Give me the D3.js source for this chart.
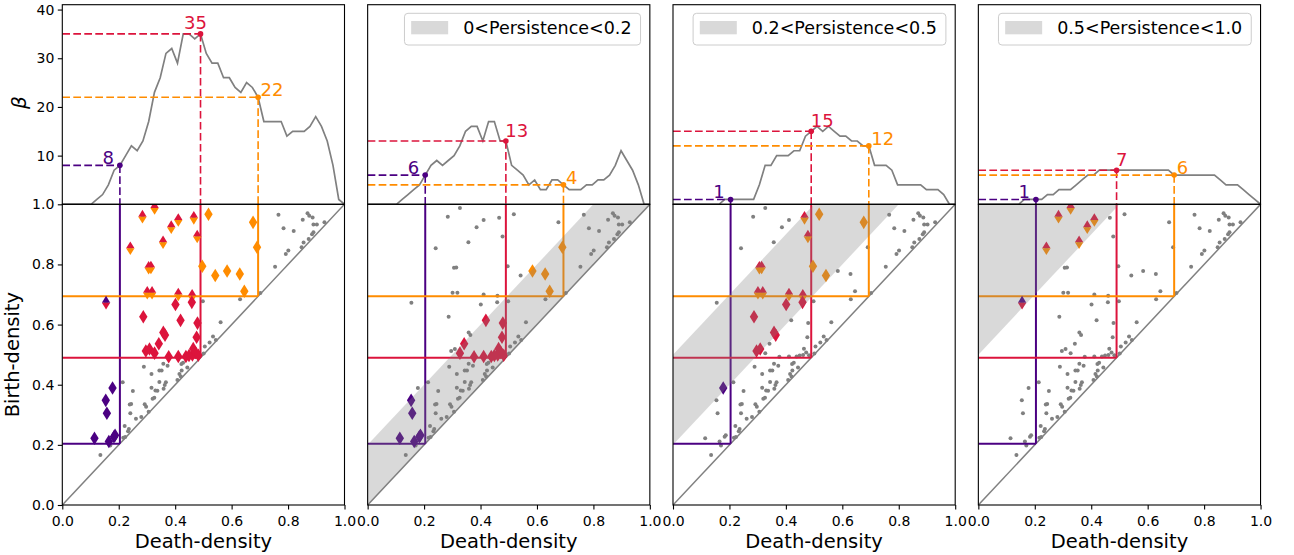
<!DOCTYPE html>
<html>
<head>
<meta charset="utf-8">
<script src="https://cdn.jsdelivr.net/npm/d3@7"></script>
<style>
  body { margin: 0; background: #fff; }
  svg { font-family: "DejaVu Sans", sans-serif; }
</style>
</head>
<body>
<svg width="1294" height="555"></svg>
<script>
// filtration grid (np.linspace(0, 1, 50)) and the three thresholds picked on it
const GRID = d3.range(50).map(i => i / 49);
const THRESHOLD_IDX = [10, 24, 34];
const THRESHOLD_COLORS = ['#4b0082', '#dc143c', '#ff8c00'];

// Betti curves
const bettiAll  = [0,0,0,0,0, 0,1,2,4,7, 8,10,12,11,13, 17,23,26,31,32, 29,35,35,34,35, 31,29,29,26,26, 24,23,25,24,22, 17,17,17,17,14, 15,15,15,16,18, 16,13,8,1,0];
const bettiLow  = [0,0,0,0,0, 0,1,2,3,4, 6,8,9,8,9, 10,12,15,16,16, 13,17,17,13,13, 8,7,6,4,5, 3,3,5,5,4, 3,3,3,4,4, 5,5,6,8,11, 9,7,4,0,0];
const bettiMid  = [0,0,0,0,0, 0,0,0,0,1, 1,1,1,1,1, 4,8,8,10,10, 10,11,11,14,15, 16,15,16,15,14, 14,13,13,12,12, 8,8,8,7,4, 4,4,4,4,3, 3,3,2,0,0];
const bettiHigh = [0,0,0,0,0, 0,0,0,1,1, 1,1,2,2,3, 3,3,4,5,6, 6,7,7,7,7, 7,7,7,7,7, 7,7,7,7,6, 6,6,6,6,6, 6,6,5,4,4, 4,3,2,1,0];

// persistence diagram: death-density (x) and birth-density (y)
const deathDensity = [
  0.766,0.784,0.820,0.869,0.875,0.887,0.852,0.890,0.902,0.929,0.890,0.885,0.873,0.855,0.848,0.801,0.792,0.754,
  0.518,0.496,0.542,0.676,0.584,0.629,0.645,0.690,
  0.241,0.284,0.327,0.357,0.386,0.411,0.155,
  0.466,0.478,0.306,0.314,0.301,0.318,0.411,0.460,
  0.401,0.459,0.287,0.358,0.364,0.296,0.309,
  0.419,0.479,0.476,0.342,0.327,0.377,0.411,0.438,0.449,0.461,0.464,0.472,0.482,
  0.114,0.154,0.158,0.165,0.183,0.187,0.178,
  0.630,0.702,0.498,0.561,0.534,0.544,0.505,0.522,0.501,
  0.289,0.358,0.373,0.422,0.428,0.443,0.423,0.415,0.408,0.420,0.344,0.352,0.316,0.344,0.367,0.363,0.359,0.316,0.330,0.337,
  0.250,0.214,0.241,0.239,0.244,0.292,0.297,0.320,0.326,0.306,0.261,0.280,0.221,0.236,0.233,0.223,0.216,0.170,0.135
];
const birthDensity = [
  0.965,0.920,0.911,0.970,0.962,0.956,0.949,0.933,0.933,0.940,0.907,0.900,0.885,0.873,0.857,0.846,0.835,0.792,
  0.967,0.794,0.763,0.940,0.778,0.768,0.711,0.857,
  0.854,0.959,0.988,0.874,0.924,0.948,0.673,
  0.955,0.893,0.789,0.790,0.706,0.706,0.700,0.696,
  0.667,0.674,0.626,0.574,0.565,0.512,0.519,
  0.614,0.605,0.558,0.536,0.505,0.493,0.494,0.494,0.497,0.499,0.520,0.507,0.498,
  0.222,0.348,0.305,0.211,0.227,0.232,0.389,
  0.684,0.705,0.678,0.608,0.560,0.549,0.527,0.540,0.504,
  0.460,0.470,0.463,0.469,0.473,0.457,0.447,0.436,0.416,0.427,0.447,0.447,0.436,0.409,0.408,0.399,0.387,0.390,0.381,0.380,
  0.379,0.408,0.305,0.334,0.336,0.335,0.327,0.353,0.357,0.310,0.287,0.293,0.263,0.253,0.245,0.226,0.224,0.198,0.166
];

// one panel per persistence band
const panelBetti = [bettiAll, bettiLow, bettiMid, bettiHigh];
const panelBands = [[0, 1], [0, 0.2], [0.2, 0.5], [0.5, 1.0]];
const panelLegend = [null, '0<Persistence<0.2', '0.2<Persistence<0.5', '0.5<Persistence<1.0'];

// layout
const PANEL_LEFT = 62.3, PANEL_W = 282.2, PANEL_STEP = 305.35;
const TOP_Y0 = 4.7, MID_Y = 204.3, BOT_Y = 505;
const BAND_FILL = '#808080', BAND_OPACITY = 0.3;

const svg = d3.select('svg');
const x = d3.scaleLinear().domain([0, 1]).range([0, PANEL_W]);
const yTop = d3.scaleLinear().domain([0, 41]).range([MID_Y, TOP_Y0]);
const yBot = d3.scaleLinear().domain([0, 1]).range([BOT_Y, MID_Y]);

const points = deathDensity.map((d, i) => ({ d: d, b: birthDensity[i] }));
const thresholds = THRESHOLD_IDX.map(i => GRID[i]);

const defs = svg.append('defs');
defs.append('clipPath').attr('id', 'clipTop').append('rect')
    .attr('x', 0).attr('y', TOP_Y0).attr('width', PANEL_W).attr('height', MID_Y - TOP_Y0);
defs.append('clipPath').attr('id', 'clipBot').append('rect')
    .attr('x', 0).attr('y', MID_Y).attr('width', PANEL_W).attr('height', BOT_Y - MID_Y);

const DW = 4.2, DH = 6.8;   // thin diamond half sizes
const diamondFull = `M0,${-DH}L${DW},0L0,${DH}L${-DW},0Z`;
const diamondTop = `M${-DW},0L0,${-DH}L${DW},0Z`;
const diamondBottom = `M${-DW},0L0,${DH}L${DW},0Z`;

// label placement around the curve markers
function labelStyle(k, j) {
    if (j === 0) return { anchor: 'end', dx: -6, dy: -1 };
    if (j === 1) return k === 0 ? { anchor: 'middle', dx: -5, dy: -4.5 } : { anchor: 'start', dx: -0.5, dy: -4.5 };
    return { anchor: 'start', dx: 2.5, dy: -1 };
}

panelBetti.forEach((betti, k) => {
    const g = svg.append('g').attr('transform', `translate(${PANEL_LEFT + k * PANEL_STEP},0)`);
    const band = panelBands[k];

    // ---------- top: Betti curve ----------
    const top = g.append('g').attr('clip-path', 'url(#clipTop)');
    top.append('path')
        .datum(betti)
        .attr('fill', 'none')
        .attr('stroke', '#808080')
        .attr('stroke-width', 1.7)
        .attr('d', d3.line().x((v, i) => x(GRID[i])).y(v => yTop(v)));

    THRESHOLD_IDX.forEach((idx, j) => {
        const t = GRID[idx], v = betti[idx], c = THRESHOLD_COLORS[j];
        top.append('line')
            .attr('x1', x(0)).attr('x2', x(t)).attr('y1', yTop(v)).attr('y2', yTop(v))
            .attr('stroke', c).attr('stroke-width', 1.6).attr('stroke-dasharray', '7.7,3.3');
        top.append('line')
            .attr('x1', x(t)).attr('x2', x(t)).attr('y1', yTop(v)).attr('y2', yTop(0))
            .attr('stroke', c).attr('stroke-width', 1.6).attr('stroke-dasharray', '7.7,3.3');
    });
    THRESHOLD_IDX.forEach((idx, j) => {
        const t = GRID[idx], v = betti[idx], c = THRESHOLD_COLORS[j];
        g.append('circle').attr('cx', x(t)).attr('cy', yTop(v)).attr('r', 2.8).attr('fill', c);
        const st = labelStyle(k, j);
        g.append('text')
            .attr('x', x(t) + st.dx).attr('y', yTop(v) + st.dy)
            .attr('text-anchor', st.anchor)
            .attr('font-size', 18).attr('fill', c)
            .text(v);
    });

    // ---------- bottom: persistence diagram ----------
    const bot = g.append('g').attr('clip-path', 'url(#clipBot)');
    bot.selectAll('.pt')
        .data(points)
        .join('circle')
        .attr('class', 'pt')
        .attr('cx', p => x(p.d)).attr('cy', p => yBot(p.b))
        .attr('r', 2).attr('fill', '#808080');

    bot.append('line')
        .attr('x1', x(0)).attr('y1', yBot(0)).attr('x2', x(1)).attr('y2', yBot(1))
        .attr('stroke', '#808080').attr('stroke-width', 1.5);

    thresholds.forEach((t, j) => {
        const c = THRESHOLD_COLORS[j];
        bot.append('line')
            .attr('x1', x(t)).attr('x2', x(t)).attr('y1', yBot(t)).attr('y2', yBot(1))
            .attr('stroke', c).attr('stroke-width', 2);
        bot.append('line')
            .attr('x1', x(0)).attr('x2', x(t)).attr('y1', yBot(t)).attr('y2', yBot(t))
            .attr('stroke', c).attr('stroke-width', 2);
    });

    // points alive at a threshold and inside this panel's band get diamonds
    const marked = points
        .filter(p => p.b - p.d > band[0] && p.b - p.d < band[1])
        .map(p => ({ p: p, cols: thresholds.map((t, j) => (p.d < t && p.b > t) ? THRESHOLD_COLORS[j] : null).filter(c => c) }))
        .filter(m => m.cols.length > 0);

    marked.forEach(m => {
        const mg = bot.append('g').attr('transform', `translate(${x(m.p.d)},${yBot(m.p.b)})`);
        if (m.cols.length === 1) {
            mg.append('path').attr('d', diamondFull).attr('fill', m.cols[0]);
        } else {
            mg.append('path').attr('d', diamondTop).attr('fill', m.cols[0]);
            mg.append('path').attr('d', diamondBottom).attr('fill', m.cols[1]);
        }
    });

    if (panelLegend[k]) {
        const lo = band[0], hi = band[1];
        const poly = [[0, lo], [0, Math.min(hi, 1)], [Math.max(1 - hi, 0), 1], [1 - lo, 1]];
        bot.append('path')
            .attr('d', 'M' + poly.map(q => `${x(q[0])},${yBot(q[1])}`).join('L') + 'Z')
            .attr('fill', BAND_FILL).attr('fill-opacity', BAND_OPACITY);
    }

    // ---------- axes ----------
    const xAxis = g.append('g')
        .attr('transform', `translate(0,${BOT_Y})`)
        .call(d3.axisBottom(x).tickValues([0, 0.2, 0.4, 0.6, 0.8, 1.0]).tickFormat(d3.format('.1f')).tickSize(4.5).tickPadding(7));
    xAxis.select('.domain').remove();
    xAxis.selectAll('text').attr('font-size', 14).attr('font-family', 'DejaVu Sans').attr('fill', '#000');
    xAxis.selectAll('line').attr('stroke', '#000').attr('stroke-width', 1.1);

    g.append('text')
        .attr('x', PANEL_W / 2).attr('y', 548)
        .attr('text-anchor', 'middle').attr('font-size', 19.5)
        .text('Death-density');

    if (k === 0) {
        const yAxisB = g.append('g')
            .call(d3.axisLeft(yBot).tickValues([0, 0.2, 0.4, 0.6, 0.8, 1.0]).tickFormat(d3.format('.1f')).tickSize(4.5).tickPadding(3.5));
        yAxisB.select('.domain').remove();
        yAxisB.selectAll('text').attr('font-size', 14).attr('font-family', 'DejaVu Sans').attr('fill', '#000');
        yAxisB.selectAll('line').attr('stroke', '#000').attr('stroke-width', 1.1);

        const yAxisT = g.append('g')
            .call(d3.axisLeft(yTop).tickValues([10, 20, 30, 40]).tickSize(4.5).tickPadding(3.5));
        yAxisT.select('.domain').remove();
        yAxisT.selectAll('text').attr('font-size', 14).attr('font-family', 'DejaVu Sans').attr('fill', '#000');
        yAxisT.selectAll('line').attr('stroke', '#000').attr('stroke-width', 1.1);

        svg.append('text')
            .attr('transform', `translate(19,${(MID_Y + BOT_Y) / 2}) rotate(-90)`)
            .attr('text-anchor', 'middle').attr('font-size', 19.5)
            .text('Birth-density');
        svg.append('text')
            .attr('transform', `translate(26,${(TOP_Y0 + MID_Y) / 2 - 2}) rotate(-90)`)
            .attr('text-anchor', 'middle').attr('font-size', 20).attr('font-style', 'italic')
            .text('β');
    }

    // legend
    if (panelLegend[k]) {
        const lg = g.append('g');
        const txt = lg.append('text').attr('font-size', 17.5).text(panelLegend[k]);
        const tw = txt.node().getComputedTextLength();
        const boxW = tw + 67.7, boxH = 31.7;
        const bx = PANEL_W - 9.3 - boxW, by = TOP_Y0 + 8.6;
        lg.insert('rect', 'text')
            .attr('x', bx).attr('y', by).attr('width', boxW).attr('height', boxH)
            .attr('rx', 3.5).attr('fill', '#fff').attr('fill-opacity', 0.8)
            .attr('stroke', '#cccccc').attr('stroke-width', 1);
        lg.insert('rect', 'text')
            .attr('x', bx + 6.7).attr('y', by + 7.7).attr('width', 37).attr('height', 13.3)
            .attr('fill', BAND_FILL).attr('fill-opacity', BAND_OPACITY);
        txt.attr('x', bx + 6.7 + 37 + 15).attr('y', by + 21);
    }

    // frames
    g.append('rect').attr('x', 0).attr('y', TOP_Y0).attr('width', PANEL_W).attr('height', MID_Y - TOP_Y0)
        .attr('fill', 'none').attr('stroke', '#000').attr('stroke-width', 1.1);
    g.append('rect').attr('x', 0).attr('y', MID_Y).attr('width', PANEL_W).attr('height', BOT_Y - MID_Y)
        .attr('fill', 'none').attr('stroke', '#000').attr('stroke-width', 1.1);
});
</script>
</body>
</html>
